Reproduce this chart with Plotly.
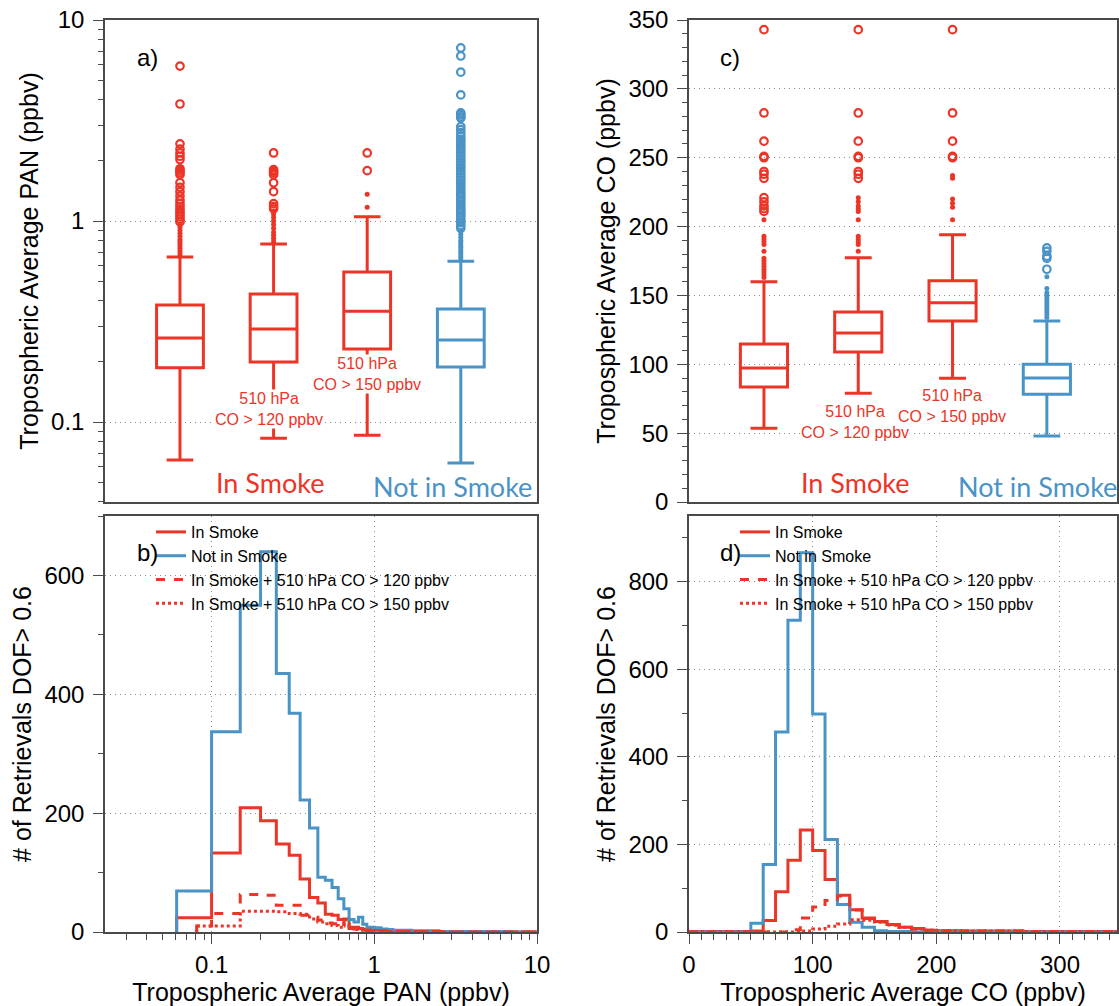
import plotly.graph_objects as go

W, H = 1119, 1006
RED = "#EC3427"
BLUE = "#4A93C6"
FRAME = "#4a4a4a"
FONT = "Liberation Sans, Arial, sans-serif"
LABEL_FONT = "Lato, Open Sans, sans-serif"

# ---- box plot stats (a: PAN, c: CO) -------------------------------------
box_pos = [1, 2, 3, 4]
box_colors = [RED, RED, RED, BLUE]

pan_q1 = [0.186, 0.199, 0.231, 0.188]
pan_med = [0.262, 0.290, 0.356, 0.256]
pan_q3 = [0.382, 0.433, 0.557, 0.365]
pan_lo = [0.0647, 0.083, 0.086, 0.0625]
pan_hi = [0.662, 0.769, 1.05, 0.63]

# far outliers (open circles) and near outliers (dots)
pan_far = [
    [5.9, 3.82, 2.42, 2.28, 2.18, 2.1, 2.02, 1.82, 1.78, 1.74, 1.7, 1.55, 1.47,
     1.4, 1.33, 1.27, 1.22, 1.18, 1.14, 1.11, 1.08, 1.05, 1.02, 0.99],
    [2.18, 1.8, 1.77, 1.74, 1.7, 1.55, 1.4, 1.22, 1.18, 1.15],
    [2.18, 1.78],
    [7.26, 6.62, 5.5, 4.24, 3.45, 3.38, 3.3, 3.25, 2.95, 2.85, 2.75, 2.65, 2.55,
     2.48, 2.4, 2.32, 2.25, 2.18, 2.1, 2.03, 1.97, 1.9, 1.84, 1.78, 1.72, 1.66,
     1.6, 1.55, 1.5, 1.45, 1.4, 1.36, 1.32, 1.28, 1.24, 1.2, 1.16, 1.13, 1.1,
     1.07, 1.04, 1.01, 0.98, 0.95, 0.92],
]
pan_near = [
    [0.96, 0.93, 0.9, 0.87, 0.84, 0.81, 0.79, 0.77, 0.75, 0.73, 0.71, 0.69, 0.67],
    [1.12, 1.08, 1.04, 1.0, 0.96, 0.92, 0.88, 0.85, 0.82, 0.79],
    [1.36, 1.17],
    [0.89, 0.86, 0.83, 0.8, 0.78, 0.76, 0.74, 0.72, 0.7, 0.68, 0.66, 0.64],
]

co_q1 = [83.5, 109.0, 131.5, 78.2]
co_med = [97.3, 122.7, 144.7, 90.0]
co_q3 = [114.7, 138.0, 160.7, 100.0]
co_lo = [53.6, 79.0, 89.8, 48.0]
co_hi = [160.0, 177.4, 194.0, 131.5]

co_far = [
    [343, 282.5, 262, 251, 250, 240, 238, 235, 221, 218, 215, 213, 211],
    [343, 282.5, 262, 251, 250, 240, 238, 235],
    [343, 282.5, 262, 251, 250],
    [184.5, 182, 178.5, 177, 169],
]
co_near = [
    [205, 193, 191, 189, 187, 182, 177, 175, 173, 171, 169, 167, 165, 163],
    [221, 218, 215, 213, 211, 205, 193, 191, 189, 187, 182],
    [237, 235, 220, 217, 214, 205],
    [163.5, 155, 152, 150, 148, 146, 144, 142, 140, 138, 136, 134],
]

# ---- histograms (b: PAN, d: CO) -----------------------------------------
pan_edges = [0.061, 0.081, 0.1, 0.15, 0.2, 0.25, 0.3, 0.35, 0.4, 0.45, 0.5,
             0.55, 0.6, 0.65, 0.7, 0.75, 0.8, 0.85, 0.9, 0.95, 1.0, 1.1, 1.2,
             1.3, 1.5, 1.7, 2.0, 2.5, 3.0, 4.0, 5.0, 7.0, 10.0]
pan_not_smoke = [69, 69, 337, 550, 640, 435, 368, 222, 175, 92, 87, 75, 56, 39,
                 21, 17, 25, 13, 8, 8, 7, 5, 4, 3, 3, 2, 2, 1, 1, 1, 1, 0]
pan_smoke = [24, 24, 133, 209, 187, 148, 129, 89, 58, 49, 30, 28, 21, 22, 8, 8,
             6, 4, 4, 3, 3, 2, 2, 2, 1, 1, 1, 1, 1, 0, 0, 0]
# these two start at the second edge
pan_smoke_120 = [10, 31, 63, 62, 45, 45, 28, 25, 20, 15, 14, 10, 20, 6, 5, 4, 3,
                 3, 2, 2, 2, 1, 1, 1, 1, 1, 1, 0, 0, 0, 0]
pan_smoke_150 = [10, 10, 35, 35, 34, 31, 30, 22, 17, 14, 11, 8, 13, 6, 4, 3, 3,
                 2, 2, 2, 1, 1, 1, 1, 1, 1, 0, 0, 0, 0, 0]

co_edges = [0, 10, 20, 30, 40, 50, 60, 70, 80, 90, 100, 110, 120, 130, 140, 150,
            160, 170, 180, 190, 200, 210, 220, 230, 240, 250, 260, 270, 280, 290,
            300, 310, 320, 330, 340, 350]
co_not_smoke = [0, 0, 0, 0, 0, 20, 154, 457, 712, 866, 498, 211, 63, 22, 11, 3,
                1, 1, 0, 0, 0, 0, 0, 0, 0, 0, 0, 0, 0, 0, 0, 0, 0, 0, 0]
co_smoke = [1, 1, 1, 1, 1, 2, 26, 92, 164, 233, 186, 120, 84, 51, 32, 24, 17, 11,
            8, 4, 3, 3, 2, 2, 2, 2, 2, 1, 1, 1, 1, 1, 1, 1, 1]
co_smoke_120 = [0, 0, 0, 0, 0, 0, 0, 0, 5, 32, 57, 72, 82, 50, 31, 23, 16, 10, 7,
                4, 3, 3, 2, 2, 2, 2, 2, 1, 1, 1, 1, 1, 1, 1, 1]
co_smoke_150 = [0, 0, 0, 0, 0, 0, 0, 0, 0, 2, 7, 13, 18, 28, 27, 23, 16, 11, 7,
                4, 3, 3, 2, 2, 2, 2, 2, 1, 1, 1, 1, 1, 1, 1, 1]

hist_names = ["In Smoke", "Not in Smoke", "In Smoke + 510 hPa CO > 120 ppbv",
              "In Smoke + 510 hPa CO > 150 ppbv"]


def pxx(x):
    return x / W


def pxy(y):
    return 1 - y / H


def step(edges, counts):
    # closed step outline: rise from 0 at first edge, flat to last edge
    return [edges[0]] + list(edges), [0] + list(counts) + [counts[-1]]


fig = go.Figure()

# boxes
for xa, ya, q1, med, q3, lo, hi, far, near in [
    ("x", "y", pan_q1, pan_med, pan_q3, pan_lo, pan_hi, pan_far, pan_near),
    ("x2", "y2", co_q1, co_med, co_q3, co_lo, co_hi, co_far, co_near),
]:
    for i, p in enumerate(box_pos):
        c = box_colors[i]
        fig.add_trace(go.Box(
            x=[p], q1=[q1[i]], median=[med[i]], q3=[q3[i]],
            lowerfence=[lo[i]], upperfence=[hi[i]],
            width=0.5, whiskerwidth=0.57, boxpoints=False,
            line=dict(color=c, width=3), fillcolor="rgba(255,255,255,0)",
            xaxis=xa, yaxis=ya, showlegend=False, hoverinfo="skip"))
        fig.add_trace(go.Scatter(
            x=[p] * len(near[i]), y=near[i], mode="markers",
            marker=dict(color=c, size=5, line=dict(width=0)),
            xaxis=xa, yaxis=ya, showlegend=False))
        fig.add_trace(go.Scatter(
            x=[p] * len(far[i]), y=far[i], mode="markers",
            marker=dict(symbol="circle-open", color=c, size=7.5,
                        line=dict(width=2.2, color=c)),
            xaxis=xa, yaxis=ya, showlegend=False))

# histograms
hist_sets = [
    ("x3", "y3", "legend",
     [(pan_edges, pan_smoke), (pan_edges, pan_not_smoke),
      (pan_edges[1:], pan_smoke_120), (pan_edges[1:], pan_smoke_150)]),
    ("x4", "y4", "legend2",
     [(co_edges, co_smoke), (co_edges, co_not_smoke),
      (co_edges, co_smoke_120), (co_edges, co_smoke_150)]),
]
styles = [(RED, "solid"), (BLUE, "solid"), (RED, "dash"), (RED, "dot")]
for xa, ya, leg, series in hist_sets:
    for k, (edges, counts) in enumerate(series):
        xs, ys = step(edges, counts)
        col, dash = styles[k]
        fig.add_trace(go.Scatter(
            x=xs, y=ys, mode="lines", line_shape="hv", name=hist_names[k],
            line=dict(color=col, width=3, dash=dash),
            xaxis=xa, yaxis=ya, legend=leg))

# axes
left_dom = [pxx(105), pxx(537)]
right_dom = [pxx(689), pxx(1117)]
top_dom = [pxy(502), pxy(20)]
bot_dom = [pxy(932), pxy(516)]

frame = dict(showline=True, linecolor=FRAME, linewidth=1.5, mirror=True,
             zeroline=False, color="black", automargin=False)
grid = dict(showgrid=True, gridcolor="#8a8a8a", gridwidth=1, griddash="1px,4px")
tickfont = dict(family=FONT, size=24, color="black")
titlefont = dict(family=FONT, size=25, color="black")
log_minor = [0.03, 0.04, 0.05, 0.06, 0.07, 0.08, 0.09, 0.2, 0.3, 0.4, 0.5, 0.6,
             0.7, 0.8, 0.9, 2, 3, 4, 5, 6, 7, 8, 9]
yticks = dict(ticks="outside", ticklen=10, tickcolor=FRAME, tickwidth=1.2,
              tickfont=tickfont, ticklabelstandoff=4)

box_x = dict(showticklabels=False, ticks="", showgrid=False, **frame)
fig.update_layout(
    xaxis=dict(domain=left_dom, range=[0.199, 4.814], anchor="y", **box_x),
    xaxis2=dict(domain=right_dom, range=[0.205, 4.744], anchor="y2", **box_x),
    yaxis=dict(domain=top_dom, anchor="x", type="log",
               range=[-1.398, 1], tickmode="array", tickvals=[0.1, 1, 10],
               ticktext=["0.1", "1", "10"],
               minor=dict(tickmode="array", tickvals=log_minor, ticks="outside",
                          ticklen=5, tickcolor=FRAME, showgrid=False),
               title=dict(text="Tropospheric Average PAN (ppbv)",
                          font=titlefont, standoff=5),
               **yticks, **grid, **frame),
    yaxis2=dict(domain=top_dom, anchor="x2", range=[0, 350], dtick=50,
                minor=dict(dtick=10, ticks="outside", ticklen=5,
                           tickcolor=FRAME, showgrid=False),
                title=dict(text="Tropospheric Average CO (ppbv)",
                           font=titlefont, standoff=6),
                **yticks, **grid, **frame),
    xaxis3=dict(domain=left_dom, anchor="y3", type="log", range=[-1.655, 1],
                tickmode="array", tickvals=[0.1, 1, 10],
                ticktext=["0.1", "1", "10"], ticks="outside", ticklen=10,
                tickcolor=FRAME, tickwidth=1.2,
                minor=dict(tickmode="array", tickvals=log_minor,
                           ticks="outside", ticklen=6, tickcolor=FRAME,
                           showgrid=False),
                tickfont=tickfont,
                title=dict(text="Tropospheric Average PAN (ppbv)",
                           font=titlefont, standoff=0),
                **grid, **frame),
    yaxis3=dict(domain=bot_dom, anchor="x3", range=[0, 700], dtick=200,
                minor=dict(dtick=100, ticks="outside", ticklen=5,
                           tickcolor=FRAME, showgrid=False),
                title=dict(text="# of Retrievals DOF> 0.6",
                           font=titlefont, standoff=6),
                **yticks, **grid, **frame),
    xaxis4=dict(domain=right_dom, anchor="y4", range=[0, 346.1], dtick=100,
                ticks="outside", ticklen=10, tickcolor=FRAME, tickwidth=1.2,
                minor=dict(dtick=10, ticks="outside", ticklen=6,
                           tickcolor=FRAME, showgrid=False),
                tickfont=tickfont,
                title=dict(text="Tropospheric Average CO (ppbv)",
                           font=titlefont, standoff=0),
                **grid, **frame),
    yaxis4=dict(domain=bot_dom, anchor="x4", range=[0, 950], dtick=200,
                minor=dict(dtick=100, ticks="outside", ticklen=5,
                           tickcolor=FRAME, showgrid=False),
                title=dict(text="# of Retrievals DOF> 0.6",
                           font=titlefont, standoff=6),
                **yticks, **grid, **frame),
)

legend_style = dict(font=dict(family=FONT, size=16, color="black"),
                    bgcolor="rgba(0,0,0,0)", borderwidth=0, tracegroupgap=0,
                    xanchor="left", yanchor="top", itemwidth=30)
fig.update_layout(
    legend=dict(x=pxx(151), y=pxy(515), **legend_style),
    legend2=dict(x=pxx(735), y=pxy(515), **legend_style),
)

# text labels
ann = []
for x, y, t in [(147, 57, "a)"), (730, 57, "c)"), (147, 552, "b)"), (730, 552, "d)")]:
    ann.append(dict(x=pxx(x), y=pxy(y), text=t, showarrow=False,
                    font=dict(family=FONT, size=24, color="black")))
for x, y, t in [(269, 409, "510 hPa<br>CO > 120 ppbv"),
                (367, 374, "510 hPa<br>CO > 150 ppbv"),
                (855, 422, "510 hPa<br>CO > 120 ppbv"),
                (952, 406, "510 hPa<br>CO > 150 ppbv")]:
    ann.append(dict(x=pxx(x), y=pxy(y), text=t, showarrow=False,
                    bgcolor="white", borderpad=0,
                    font=dict(family=FONT, size=16, color=RED)))
for x, y, t, c in [(270, 483, "In Smoke", RED), (452, 486, "Not in Smoke", BLUE),
                   (855, 483, "In Smoke", RED), (1037, 486, "Not in Smoke", BLUE)]:
    ann.append(dict(x=pxx(x), y=pxy(y), text=t, showarrow=False,
                    font=dict(family=LABEL_FONT, size=27, color=c)))
for a in ann:
    a.update(xref="paper", yref="paper", xanchor="center", yanchor="middle")

fig.update_layout(
    width=W, height=H, margin=dict(l=0, r=0, t=0, b=0),
    paper_bgcolor="white", plot_bgcolor="white",
    font=dict(family=FONT, color="black"),
    annotations=ann,
)

# drop the page's default body margin so the figure sits at the window corner
fig.write_html("out.html", config={"displayModeBar": False},
               post_script="document.body.style.margin='0';")
